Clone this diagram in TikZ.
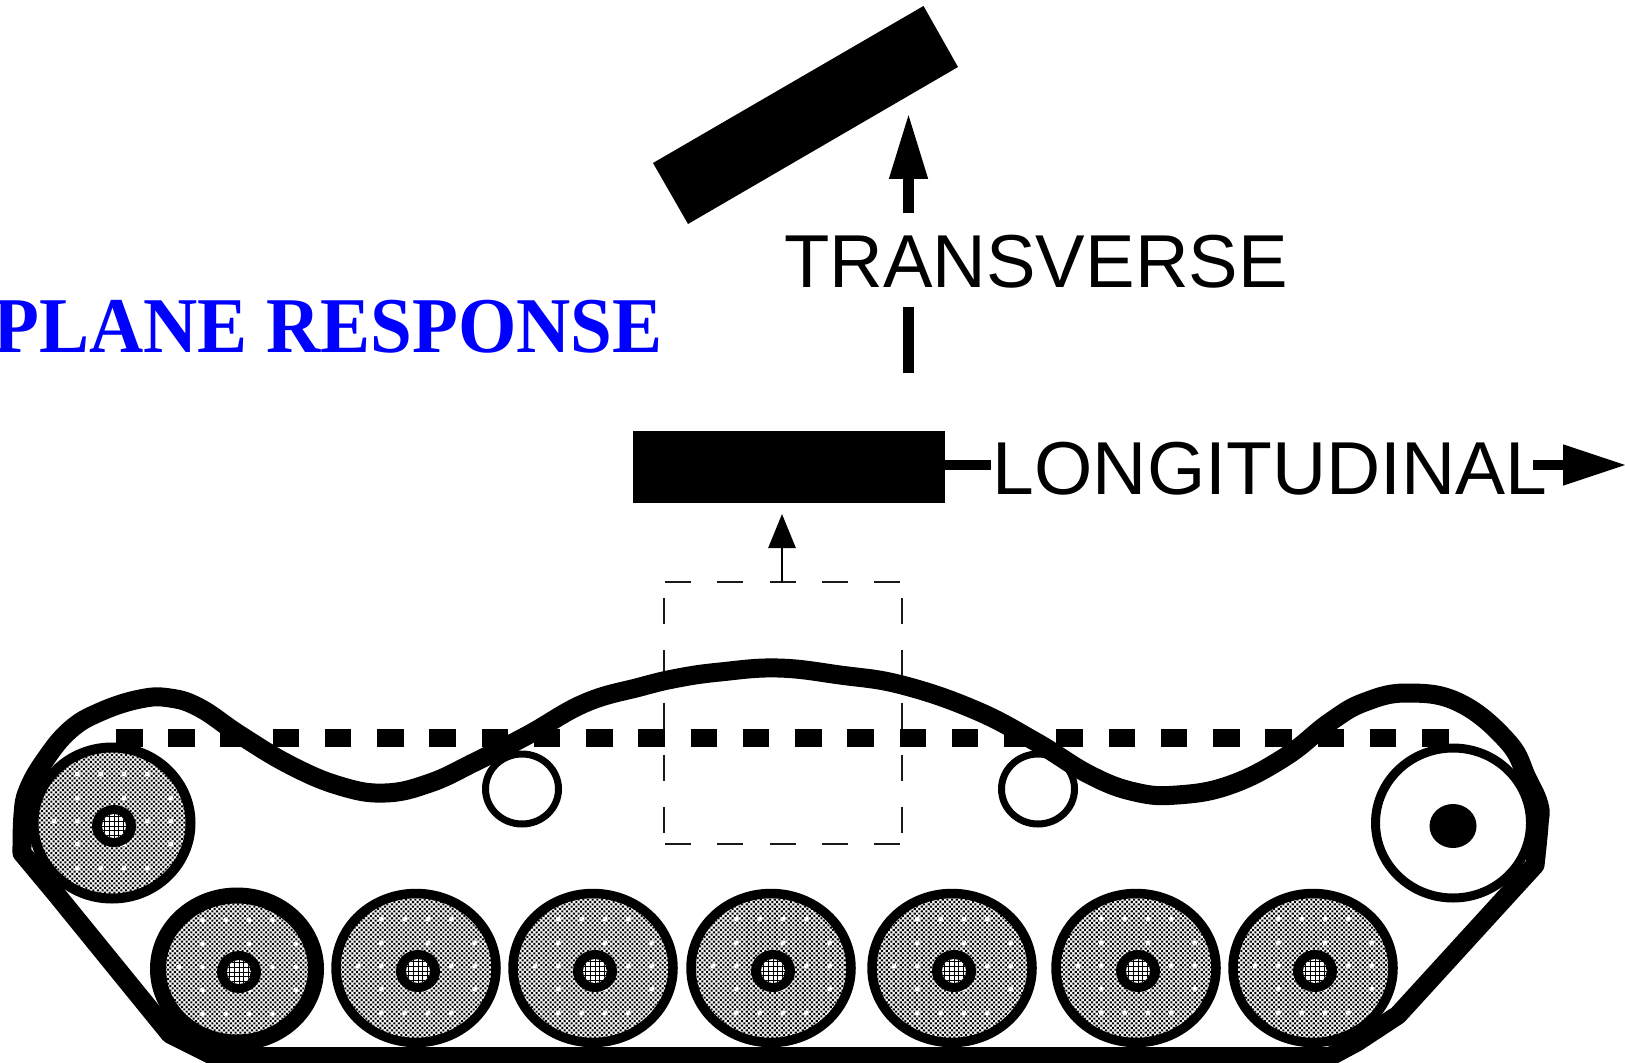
\documentclass[tikz,border=0pt]{standalone}
\usepackage{fontspec}
\setmainfont{Liberation Sans}
\newfontfamily\titlefont{Liberation Serif}
\usetikzlibrary{arrows.meta,patterns.meta}
\tikzset{
  tracklink/.style={line width=9.5pt,line join=round},
  halftone/.style={pattern={Dots[distance=1.65pt,radius=.74pt,angle=45]},pattern color=black},
  axisline/.style={line width=5.4pt},
  axislabel/.style={inner sep=0pt,font=\fontsize{37.5pt}{37.5pt}\selectfont},
  barbox/.style={fill=black},
  dashline/.style={line width=1.25pt,dash pattern=on 13pt off 13.15pt,black!90}
}
% hub with its small grid
\newcommand{\wheelhub}[2]{
  \fill (#1,#2) circle [x radius=22,y radius=21];
  \begin{scope}
    \clip (#1,#2) circle (12);
    \fill[white] (#1,#2) circle (12);
    \foreach \k in {-2,...,2} {
      \draw[line width=.35pt] (#1+\k*4.67,#2-13) -- (#1+\k*4.67,#2+13);
      \draw[line width=.35pt] (#1-13,#2+\k*4.67) -- (#1+13,#2+\k*4.67);
    }
  \end{scope}
}
% one wheel: x, y, x radius, y radius, ring width
\newcommand{\grayroller}[5]{
  \fill[white] (#1,#2) circle [x radius=#3,y radius=#4];
  \path[halftone] (#1,#2) circle [x radius=#3,y radius=#4];
  \foreach \dx/\dy in {-36.7/-52,-13.3/-52,10/-52,33.3/-52,
    -36.7/-28,10/-28,56.7/-28,
    -60/-5,-36.7/-5,33.3/-5,56.7/-5,
    -36.7/18,10/18,56.7/18,
    -36.7/42,-13.3/42,10/42,33.3/42,56.7/42} {
    \fill[white] (#1+2+\dx,#2+3+\dy) circle (2.5);
  }
  \draw[line width=#5] (#1,#2) circle [x radius=#3,y radius=#4];
  \wheelhub{#1+2}{#2+3}
}

\begin{document}
\begin{tikzpicture}[x=0.5pt,y=-0.5pt]
\useasboundingbox (0,0) rectangle (1625,1063);
% title
\node[font=\titlefont\bfseries\fontsize{39.5pt}{39.5pt}\selectfont,text=blue,xscale=.95,transform shape,
  anchor=base east,inner sep=0pt] (title) at (663,353) {PLANE RESPONSE};
% bars
\fill (923.5,6) -- (958,67) -- (688,224) -- (653,163) -- cycle;
\node[barbox,minimum width=156pt,minimum height=36pt,inner sep=0pt] (flatbar) at (789,467) {};
% transverse axis
\node[axislabel,xscale=.99,transform shape] (translabel) at (1036,262) {TRANSVERSE};
\coordinate (transbot) at (908.5,373);
\coordinate (transmid) at (908.5,307);
\coordinate (transtop) at (908.5,213);
\coordinate (transtip) at (908.5,113);
\draw[axisline] (transbot) -- (transmid);
\draw[axisline,-{Triangle[length=33pt,width=18pt]}] (transtop) -- (transtip);
% longitudinal axis
\node[axislabel] (longlabel) at (1270,469) {LONGITUDINAL};
\coordinate (longa) at (945,465);
\coordinate (longb) at (991,465);
\coordinate (longc) at (1533,465);
\coordinate (longtip) at (1627,465);
\draw[axisline] (longa) -- (longb);
\draw[axisline,-{Triangle[length=32pt,width=19pt]}] (longc) -- (longtip);
% dashed box and its arrow
\draw[dashline] (665,582) -- (902,582);
\draw[dashline] (665,844) -- (902,844);
\draw[dashline] (664,598) -- (664,838);
\draw[dashline] (902,598) -- (902,838);
\coordinate (boxtop) at (782,582);
\coordinate (boxtip) at (782,514);
\draw[line width=1.4pt,-{Triangle[length=17pt,width=13.5pt]}] (boxtop) -- (boxtip);
% links of the top run
\foreach \i in {0,...,25} {
  \fill[black] (116+\i*52.24,729) rectangle (142.5+\i*52.24,747);
}
% rollers
\draw[line width=3.5pt] (522,789) circle [x radius=36.5,y radius=35];
\draw[line width=3.5pt] (1038,789) circle [x radius=36.5,y radius=35];
% idlers
\grayroller{112}{823}{78.5}{75.5}{5pt}
\draw[line width=4.5pt] (1453,823) circle [x radius=77.5,y radius=75];
\fill (1453,826) circle [x radius=23.5,y radius=22];
% road wheels
\grayroller{237}{969}{79}{73.5}{8pt}
\grayroller{416}{968}{80}{74.5}{4.75pt}
\grayroller{593}{968}{80}{74.5}{4.75pt}
\grayroller{771}{968}{80}{74.5}{4.75pt}
\grayroller{952}{968}{80}{74.5}{4.75pt}
\grayroller{1136}{968}{80}{74.5}{4.75pt}
\grayroller{1313}{968}{80}{74.5}{4.75pt}
% track
\draw[tracklink] plot[smooth,tension=.7] coordinates {(22,853) (23,815) (28,790) (45,760) (70,730) (100,712) (140,699) (170,698)
  (200,708) (240,735) (290,765) (340,786) (385,793) (430,783) (475,762) (528,735) (585,703) (640,687)
  (678,678) (720,672) (778,668) (840,675) (902,685) (975,710) (1036,742) (1090,775) (1135,792) (1177,795) (1230,785)
  (1285,757) (1330,722) (1365,702) (1408,693) (1460,703) (1508,742) (1527,778) (1539,805) (1539,825) (1535,865)}
  -- (1503,900) -- (1398,1015) -- (1357,1042) -- (1330,1056.5) -- (215,1056.5)
  -- (170,1034) -- (57,895) -- cycle;
\end{tikzpicture}
\end{document}
